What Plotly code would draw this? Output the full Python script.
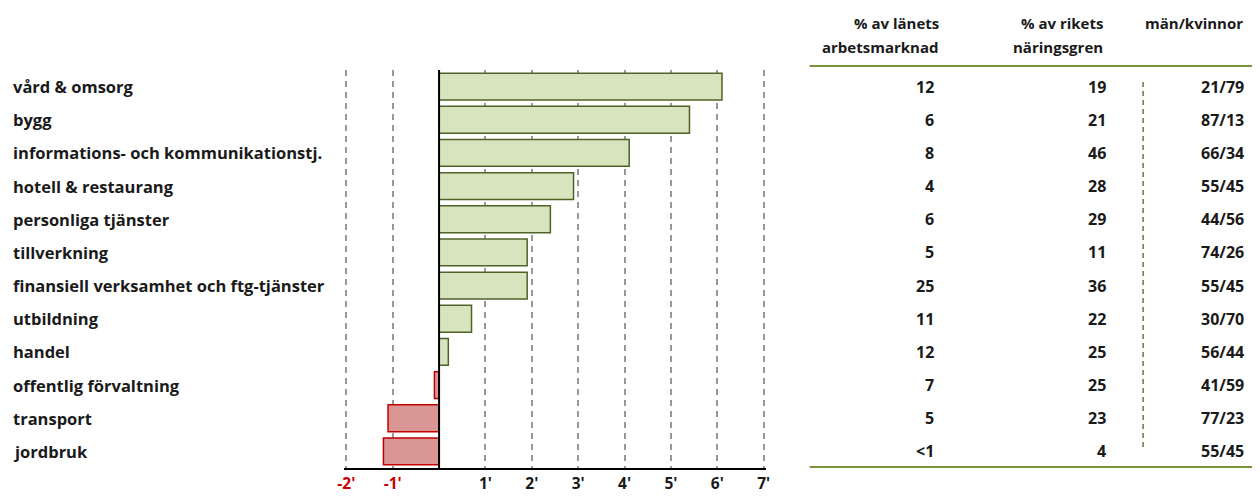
import plotly.graph_objects as go

categories = ["vård & omsorg", "bygg", "informations- och kommunikationstj.",
              "hotell & restaurang", "personliga tjänster", "tillverkning",
              "finansiell verksamhet och ftg-tjänster", "utbildning", "handel",
              "offentlig förvaltning", "transport", "jordbruk"]
change = [6.1, 5.4, 4.1, 2.9, 2.4, 1.9, 1.9, 0.7, 0.2, -0.1, -1.1, -1.2]
share_lan = ["12", "6", "8", "4", "6", "5", "25", "11", "12", "7", "5", "<1"]
share_riket = ["19", "21", "46", "28", "29", "11", "36", "22", "25", "25", "23", "4"]
men_women = ["21/79", "87/13", "66/34", "55/45", "44/56", "74/26", "55/45",
             "30/70", "56/44", "41/59", "77/23", "55/45"]
tick_vals = [-2, -1, 1, 2, 3, 4, 5, 6, 7]
headers = [["% av länets", "arbetsmarknad"], ["% av rikets", "näringsgren"], ["män/kvinnor"]]

FONT = "Open Sans, Noto Sans, sans-serif"
GREEN_FILL, GREEN_LINE = "#d7e4bd", "#4f6228"
RED_FILL, RED_LINE = "#d99694", "#c00000"
TXT = "#1a1a1a"

# page body has an 8px margin: figure placed at (8, 8) in the window
OFF = 8
W, H = 1260 - OFF, 497 - OFF
# plot area in window pixels (range padded slightly so edge gridlines show)
PAD = 0.05
UNIT = 418 / 9
L, R, T, B = 346 - PAD * UNIT, 764 + PAD * UNIT, 70, 468


def px_x(p):
    return (p - L) / (R - L)


def px_y(p):
    return (B - p) / (B - T)


fills = [GREEN_FILL if v >= 0 else RED_FILL for v in change]
lines = [GREEN_LINE if v >= 0 else RED_LINE for v in change]

fig = go.Figure(go.Bar(
    x=change, y=categories, orientation="h",
    marker=dict(color=fills, line=dict(color=lines, width=1.5)),
    hoverinfo="x+y",
))

tick_text = [(f"<b><span style='color:#cc0000'>{v}'</span></b>" if v < 0 else f"<b>{v}'</b>")
             for v in tick_vals]

annotations = []
for c in categories:
    annotations.append(dict(x=px_x(10), xref="paper", y=c, yref="y", text=f"<b>{c}</b>",
                            xanchor="left", yanchor="middle", showarrow=False,
                            font=dict(family=FONT, size=16.5, color=TXT)))
cols = [(share_lan, 937), (share_riket, 1109), (men_women, 1247)]
for vals, xr in cols:
    for c, v in zip(categories, vals):
        annotations.append(dict(x=px_x(xr), xref="paper", y=c, yref="y", text=f"<b>{v}</b>",
                                xanchor="right", yanchor="middle", showarrow=False,
                                font=dict(family=FONT, size=16, color=TXT)))
hdr_right = [942, 1106, 1246]
for hl, xr in zip(headers, hdr_right):
    for i, line in enumerate(hl):
        annotations.append(dict(x=px_x(xr), xref="paper", y=px_y(23 + 24 * i), yref="paper",
                                text=f"<b>{line}</b>", xanchor="right", yanchor="middle",
                                showarrow=False, font=dict(family=FONT, size=15, color=TXT)))

shapes = [
    dict(type="line", xref="paper", yref="paper", x0=px_x(810), x1=px_x(1262),
         y0=px_y(66), y1=px_y(66), line=dict(color="#77933c", width=2)),
    dict(type="line", xref="paper", yref="paper", x0=px_x(810), x1=px_x(1262),
         y0=px_y(467), y1=px_y(467), line=dict(color="#77933c", width=2)),
    dict(type="line", xref="paper", yref="paper", x0=px_x(1144), x1=px_x(1144),
         y0=px_y(82), y1=px_y(448), line=dict(color="#4f6228", width=1.3, dash="5px,4px")),
    dict(type="line", xref="x", yref="paper", x0=0, x1=0, y0=0, y1=1, layer="above",
         line=dict(color="black", width=2)),
]

fig.update_layout(
    width=W, height=H,
    margin=dict(l=L - OFF, r=1260 - R, t=T - OFF, b=497 - B),
    plot_bgcolor="white", paper_bgcolor="white",
    showlegend=False, bargap=0.19,
    font=dict(family=FONT, size=16, color=TXT),
    xaxis=dict(range=[-2 - PAD, 7 + PAD], tickvals=tick_vals, ticktext=tick_text,
               tickfont=dict(family=FONT, size=15.5, color=TXT),
               showgrid=True, gridcolor="#999999", gridwidth=1.6, griddash="6px,5px",
               zeroline=False, showline=True, linecolor="black", linewidth=2,
               ticks="", ticklabelstandoff=0, automargin=False, fixedrange=True),
    yaxis=dict(autorange="reversed", showticklabels=False, showgrid=False,
               zeroline=False, showline=False, automargin=False, fixedrange=True),
    annotations=annotations, shapes=shapes,
)

fig.write_html("out.html")
